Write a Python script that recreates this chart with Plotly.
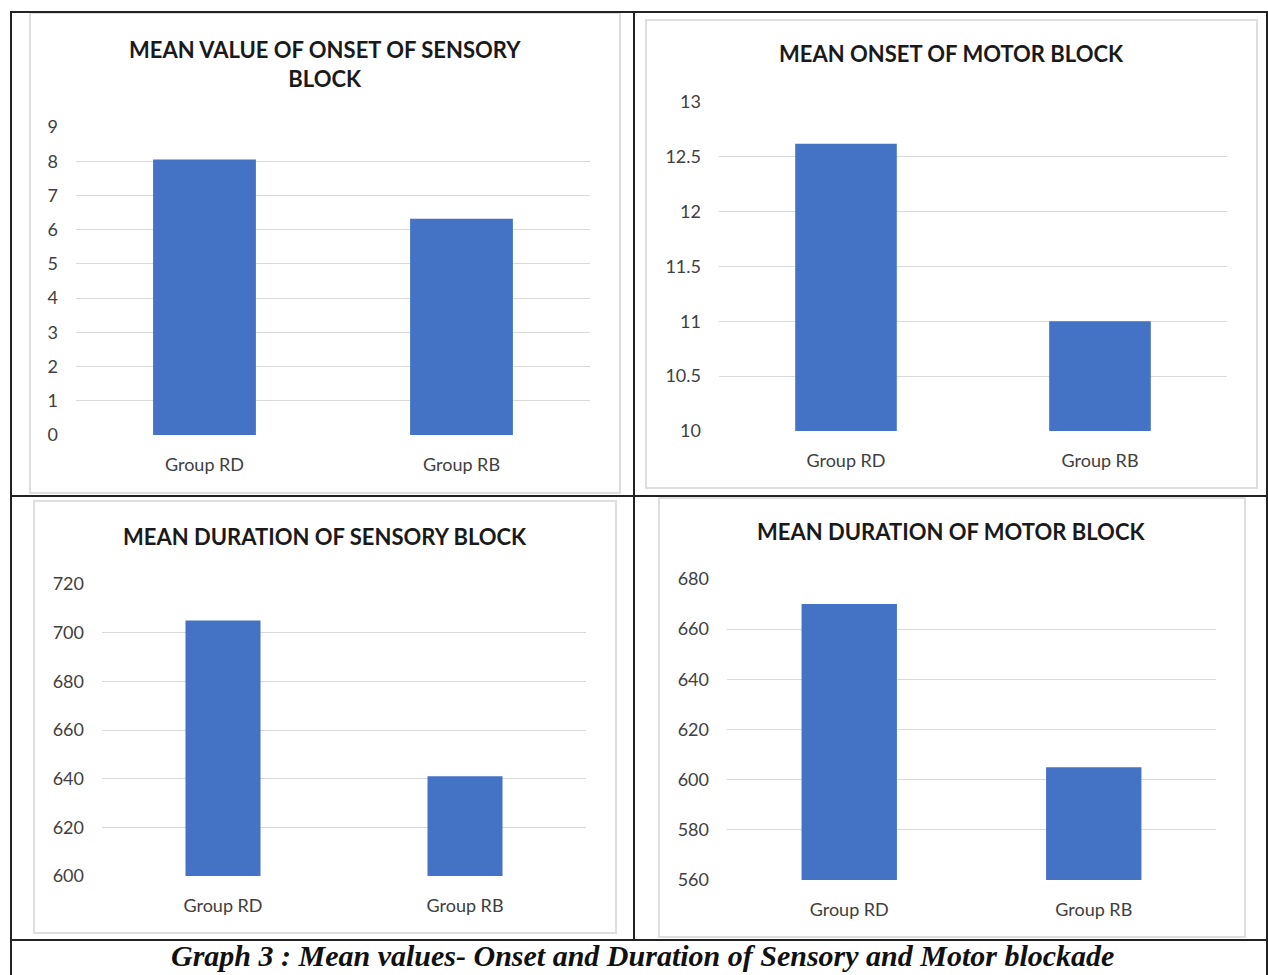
import plotly.graph_objects as go

W, H = 1268, 975

groups = ["Group RD", "Group RB"]

onset_sensory = [8.05, 6.32]
onset_motor = [12.62, 11.0]
duration_sensory = [705, 641]
duration_motor = [670, 605]

titles = [
    "MEAN VALUE OF ONSET OF SENSORY<br>BLOCK",
    "MEAN ONSET OF MOTOR BLOCK",
    "MEAN DURATION OF SENSORY BLOCK",
    "MEAN DURATION OF MOTOR BLOCK",
]
caption = "Graph 3 : Mean values- Onset and Duration of Sensory and Motor blockade"

BAR = "#4472C4"
GRID = "#d9d9d9"
TICK_FONT = dict(family="Lato, Open Sans, sans-serif", size=18, color="#404040")
TITLE_FONT = dict(family="Lato, Open Sans, sans-serif", size=22, color="#1a1a1a")


def px_x(v):
    return v / W


def px_y(v):
    return 1 - v / H


# panel layout in pixels: plot area (x0, x1, ytop, ybottom), chart box, title centre
panels = [
    dict(vals=onset_sensory, area=(76, 590, 127, 435), rng=[0, 9], dtick=1, bw=0.4,
         title_xy=(325, 64), box=(30, 13, 620, 493)),
    dict(vals=onset_motor, area=(719, 1227, 102, 431), rng=[10, 13], dtick=0.5, bw=0.4,
         title_xy=(951, 54), box=(646, 20, 1257, 488)),
    dict(vals=duration_sensory, area=(102, 586, 584, 876), rng=[600, 720], dtick=20, bw=0.31,
         title_xy=(325, 536), box=(34, 501, 616, 933)),
    dict(vals=duration_motor, area=(727, 1216, 579, 880), rng=[560, 680], dtick=20, bw=0.39,
         title_xy=(951, 531), box=(659, 498, 1245, 937)),
]

fig = go.Figure()
shapes = []
annotations = []

for i, p in enumerate(panels, start=1):
    xa = "x" if i == 1 else f"x{i}"
    ya = "y" if i == 1 else f"y{i}"
    lo = p["rng"][0]
    fig.add_trace(go.Bar(
        x=groups, y=[v - lo for v in p["vals"]], base=lo,
        xaxis=xa, yaxis=ya, marker=dict(color=BAR, line=dict(width=0)),
        width=p["bw"], showlegend=False, hoverinfo="skip",
    ))
    x0, x1, yt, yb = p["area"]
    kx = "xaxis" if i == 1 else f"xaxis{i}"
    ky = "yaxis" if i == 1 else f"yaxis{i}"
    fig.update_layout({
        kx: dict(domain=[px_x(x0), px_x(x1)], anchor=ya, range=[-0.5, 1.5],
                 showgrid=False, showline=False, zeroline=False, ticks="",
                 tickfont=TICK_FONT, ticklabelstandoff=17, fixedrange=True,
                 automargin=False),
        ky: dict(domain=[px_y(yb), px_y(yt)], anchor=xa, range=p["rng"],
                 dtick=p["dtick"], tick0=lo, showgrid=True, gridcolor=GRID,
                 gridwidth=1, showline=False, zeroline=False, ticks="",
                 tickfont=TICK_FONT, ticklabelstandoff=17, fixedrange=True,
                 automargin=False),
    })
    # chart border
    bx0, by0, bx1, by1 = p["box"]
    shapes.append(dict(type="rect", xref="paper", yref="paper",
                       x0=px_x(bx0), x1=px_x(bx1), y0=px_y(by1), y1=px_y(by0),
                       line=dict(color="#dedede", width=2), layer="below"))
    tx, ty = p["title_xy"]
    annotations.append(dict(text=f"<b>{titles[i-1]}</b>", xref="paper", yref="paper",
                            x=px_x(tx), y=px_y(ty), showarrow=False,
                            xanchor="center", yanchor="middle", font=TITLE_FONT))


# table grid lines
def hline(y, xa, xb, w=2):
    shapes.append(dict(type="line", xref="paper", yref="paper", x0=px_x(xa), x1=px_x(xb),
                       y0=px_y(y), y1=px_y(y), line=dict(color="#222222", width=w)))


def vline(x, ya, yb, w=2):
    shapes.append(dict(type="line", xref="paper", yref="paper", x0=px_x(x), x1=px_x(x),
                       y0=px_y(ya), y1=px_y(yb), line=dict(color="#222222", width=w)))


hline(12, 10, W)
hline(496, 10, W)
hline(940, 10, W)
vline(11, 12, H)
vline(634, 12, 940)
vline(1267, 12, H)

annotations.append(dict(text=f"<b><i>{caption}</i></b>", xref="paper", yref="paper",
                        x=px_x(642), y=px_y(955), showarrow=False,
                        xanchor="center", yanchor="middle",
                        font=dict(family="Liberation Serif, Times New Roman, serif",
                                  size=30, color="#111111")))

fig.update_layout(
    width=W, height=H, margin=dict(l=0, r=0, t=0, b=0, autoexpand=False),
    paper_bgcolor="white", plot_bgcolor="white",
    shapes=shapes, annotations=annotations, bargap=0.6,
)

fig.write_html("out.html", config={"displayModeBar": False})
